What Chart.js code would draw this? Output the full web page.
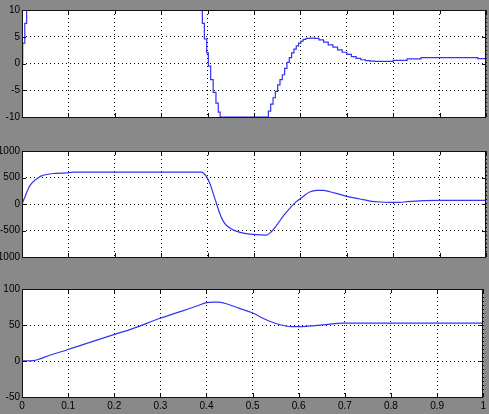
<!DOCTYPE html>
<html>
<head>
<meta charset="utf-8">
<script src="https://cdn.jsdelivr.net/npm/chart.js@4/dist/chart.umd.min.js"></script>
<style>
	html, body { margin: 0; padding: 0; background: #898989; }
	body { width: 489px; height: 414px; position: relative; overflow: hidden; }
	canvas { position: absolute; left: 0; }
</style>
</head>
<body>
<canvas id="chart1" width="489" height="125" style="top:0px"></canvas>
<canvas id="chart2" width="489" height="125" style="top:140px"></canvas>
<canvas id="chart3" width="489" height="136" style="top:278px"></canvas>
<script>
// tick labels
const xTicks = [0, 0.1, 0.2, 0.3, 0.4, 0.5, 0.6, 0.7, 0.8, 0.9, 1];
const yTicks1 = [-10, -5, 0, 5, 10];
const yTicks2 = [-1000, -500, 0, 500, 1000];
const yTicks3 = [-50, 0, 50, 100];

// top scope: stepped signal (values above 10 are off the scale)
const t1 = [0, 0.0015, 0.006, 0.01, 0.3887, 0.393, 0.398, 0.4016, 0.4066, 0.412, 0.418, 0.423, 0.427,
	0.527, 0.531, 0.536, 0.541, 0.546, 0.551, 0.556, 0.561, 0.566, 0.571, 0.576, 0.581, 0.586, 0.591,
	0.596, 0.601, 0.606, 0.612, 0.62, 0.63, 0.64, 0.65, 0.66, 0.67, 0.68, 0.69, 0.70, 0.71, 0.72,
	0.73, 0.74, 0.75, 0.76, 0.78, 0.80, 0.83, 0.86, 0.982, 1.0];
const v1 = [0, 3.8, 7.5, 12, 7.5, 4.6, 2.0, -0.5, -3.0, -5.4, -7.4, -9.1, -10,
	-10, -8.9, -7.6, -6.4, -5.2, -4.0, -3.0, -2.1, -0.9, 0.2, 1.1, 2.0, 2.7, 3.3,
	3.8, 4.2, 4.5, 4.7, 4.75, 4.7, 4.4, 4.0, 3.5, 3.05, 2.55, 2.1, 1.7, 1.3, 0.95,
	0.7, 0.55, 0.45, 0.4, 0.4, 0.6, 0.85, 1.1, 0.9, 0.9];

// middle scope
const t2 = [0, 0.0065, 0.0137, 0.0207, 0.028, 0.035, 0.042, 0.053, 0.067, 0.096, 0.111, 0.387,
	0.392, 0.398, 0.405, 0.412, 0.419, 0.426, 0.433, 0.441, 0.455, 0.470, 0.491, 0.513, 0.527,
	0.534, 0.541, 0.552, 0.562, 0.577, 0.591, 0.599, 0.610, 0.620, 0.635, 0.649, 0.664, 0.685,
	0.707, 0.728, 0.750, 0.772, 0.793, 0.815, 0.830, 0.866, 0.902, 1.0];
const v2 = [0, 138, 294, 388, 450, 494, 531, 556, 575, 588, 600, 600,
	575, 513, 388, 200, 13, -175, -313, -406, -488, -535, -569, -581, -588,
	-550, -488, -363, -238, -81, 44, 94, 169, 225, 256, 256, 231, 181,
	131, 94, 56, 38, 31, 31, 44, 63, 69, 69];

// bottom scope
const t3 = [0, 0.024, 0.039, 0.060, 0.097, 0.132, 0.199, 0.240, 0.298, 0.348, 0.384, 0.398,
	0.416, 0.427, 0.448, 0.470, 0.498, 0.527, 0.556, 0.584, 0.606, 0.635, 0.664, 0.692, 0.757, 1.0];
const v3 = [0, 0.5, 3, 8, 15.3, 22.8, 36.7, 45, 59, 69.6, 77.5, 80.8,
	81.7, 81.7, 78.5, 73.5, 67.3, 58, 51, 47.8, 47.8, 49.2, 51, 52.5, 52.5, 52.5];

// white axes box, black frame and inward ticks like a scope window
const scopeFrame = {
	id: 'scopeFrame',
	beforeDraw(chart) {
		const {ctx, chartArea: {left, top, width, height}} = chart;
		ctx.save();
		ctx.fillStyle = '#ffffff';
		ctx.fillRect(left, top, width, height);
		ctx.restore();
	},
	afterDraw(chart) {
		const {ctx, chartArea: {left, top, right, bottom}, scales: {x, y}} = chart;
		ctx.save();
		ctx.strokeStyle = '#111';
		ctx.lineWidth = 1;
		ctx.beginPath();
		xTicks.forEach(v => {
			const px = Math.round(x.getPixelForValue(v)) + 0.5;
			ctx.moveTo(px, bottom); ctx.lineTo(px, bottom - 4);
			ctx.moveTo(px, top); ctx.lineTo(px, top + 4);
		});
		y.ticks.forEach(t => {
			const py = Math.round(y.getPixelForValue(t.value)) + 0.5;
			ctx.moveTo(left, py); ctx.lineTo(left + 4, py);
			ctx.moveTo(right, py); ctx.lineTo(right - 4, py);
		});
		ctx.stroke();
		ctx.strokeRect(Math.round(left) + 0.5, Math.round(top) + 0.5, Math.round(right - left) - 1, Math.round(bottom - top));
		ctx.restore();
	}
};

function pairs(ts, vs) {
	return ts.map((t, i) => ({x: t, y: vs[i]}));
}

function makeScope(id, ts, vs, yTicks, opts) {
	const gridStyle = {
		color: '#000',
		lineWidth: 1,
		drawTicks: false
	};
	return new Chart(document.getElementById(id), {
		type: 'line',
		data: {
			datasets: [{
				data: pairs(ts, vs),
				borderColor: '#3333f2',
				borderWidth: 1.2,
				pointRadius: 0,
				fill: false,
				stepped: opts.stepped ? true : false, // zero-order hold
				cubicInterpolationMode: opts.stepped ? 'default' : 'monotone'
			}]
		},
		options: {
			responsive: false,
			animation: false,
			events: [],
			layout: { padding: { top: opts.padTop, bottom: opts.padBottom, left: 0, right: 3 } },
			plugins: { legend: { display: false }, tooltip: { enabled: false } },
			scales: {
				x: {
					type: 'linear',
					min: 0,
					max: 1,
					afterBuildTicks: scale => { scale.ticks = xTicks.map(v => ({value: v})); },
					afterFit: scale => { scale.height = opts.xHeight; },
					grid: gridStyle,
					border: { display: false, dash: [1, 3] },
					ticks: {
						display: opts.showX,
						padding: 3,
						maxRotation: 0,
						autoSkip: false,
						color: '#000',
						font: { family: 'Liberation Sans', size: 10 },
						callback: v => String(v)
					}
				},
				y: {
					min: yTicks[0],
					max: yTicks[yTicks.length - 1],
					afterBuildTicks: scale => { scale.ticks = yTicks.map(v => ({value: v})); },
					afterFit: scale => { scale.width = 22; },
					grid: gridStyle,
					border: { display: false, dash: [1, 3] },
					ticks: {
						padding: 2,
						color: '#000',
						font: { family: 'Liberation Sans', size: 10 },
						callback: v => String(v)
					}
				}
			}
		},
		plugins: [scopeFrame]
	});
}

makeScope('chart1', t1, v1, yTicks1, { stepped: true, padTop: 10, padBottom: 6, xHeight: 0, showX: false });
makeScope('chart2', t2, v2, yTicks2, { stepped: false, padTop: 11, padBottom: 7, xHeight: 0, showX: false });
makeScope('chart3', t3, v3, yTicks3, { stepped: false, padTop: 11, padBottom: 0, xHeight: 17, showX: true });
</script>
</body>
</html>
